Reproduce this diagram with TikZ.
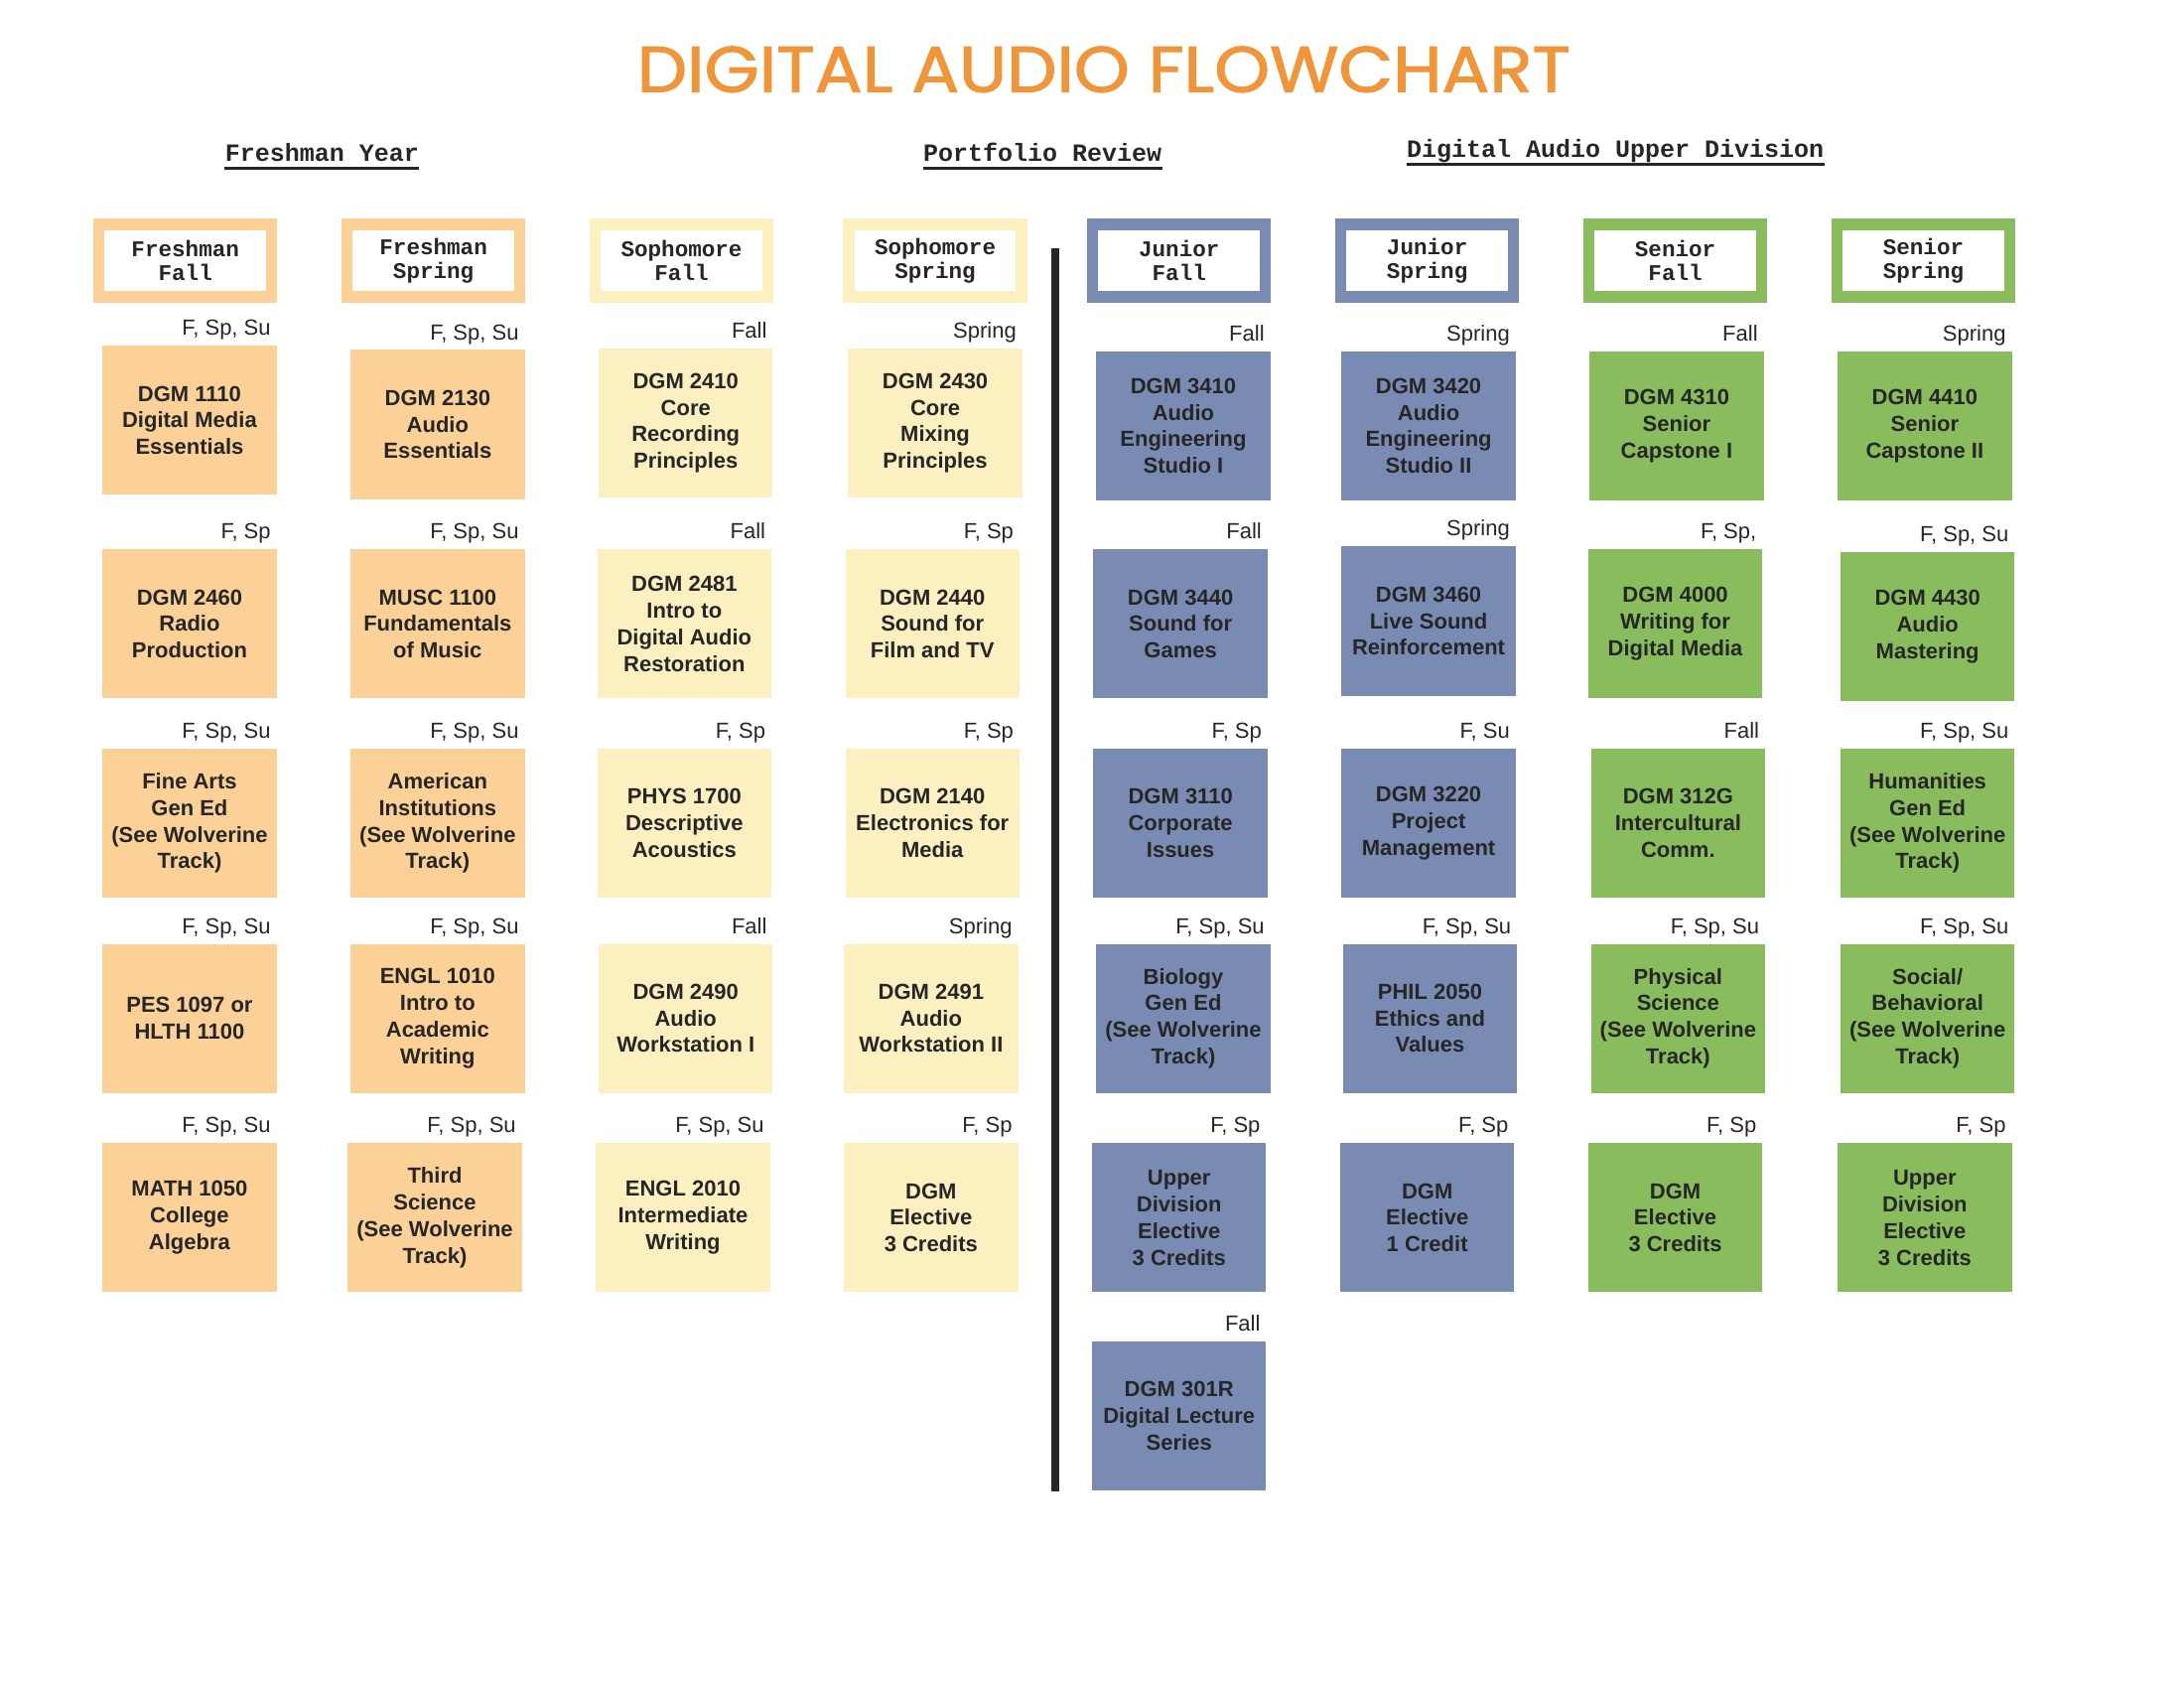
\documentclass[tikz,border=0pt]{standalone}
\usepackage{fontspec}
\setmainfont{Liberation Sans}
\newfontfamily\monof{Liberation Mono}
\newfontfamily\titlef{Poppins}[FakeBold=1.6]
\definecolor{fresh}{HTML}{FCD197}
\definecolor{soph}{HTML}{FCF0C0}
\definecolor{jun}{HTML}{7A8BB3}
\definecolor{sen}{HTML}{89BC5D}
\definecolor{ink}{HTML}{262626}
\definecolor{titleor}{HTML}{F0953A}
\tikzset{
  crsbox/.style={inner sep=0pt, minimum width=87.7pt, minimum height=75.1pt, align=center,
    text=ink, font=\fontsize{11}{13.4}\selectfont\bfseries},
  termlbl/.style={anchor=base east, inner sep=0pt, text=ink, font=\fontsize{11}{13}\selectfont},
  hdrbox/.style={fill=white, line width=5.6pt, minimum width=87pt, minimum height=36.5pt,
    inner sep=0pt, align=center, text=ink, font=\fontsize{11.3}{11.9}\selectfont\monof\bfseries},
  sechdr/.style={anchor=base, inner sep=0pt, text=ink, font=\fontsize{12.5}{14}\selectfont\monof\bfseries},
}
\newcommand\crs[6]{%
  \node[crsbox, fill=#4] (#1) at (#2,#3+53.5) {#6};
  \node[termlbl] (#1t) at ([xshift=-3pt,yshift=5pt]#1.north east) {#5};
}
\begin{document}
\begin{tikzpicture}[x=0.702pt, y=-0.702pt]
\useasboundingbox (0,0) rectangle (1567,1211);
% title
\node[anchor=base, inner sep=0pt, text=titleor] (title) at (792,66)
  {\resizebox{470pt}{23pt}{\titlef DIGITAL AUDIO FLOWCHART}};
% section headers
\node[sechdr] (s1) at (231,116) {Freshman Year};
\node[sechdr] (s2) at (748,116) {Portfolio Review};
\node[sechdr] (s3) at (1159,113) {Digital Audio Upper Division};
\foreach \s in {s1,s2,s3}{
  \draw[ink, line width=1.5pt] ([yshift=-3.2pt]\s.base west) -- ([yshift=-3.2pt]\s.base east);
}
% divider
\coordinate (d1) at (757,178);
\coordinate (d2) at (757,1070);
\draw[ink, line width=4.3pt] (d1) -- (d2);
% column headers
\node[hdrbox, draw=fresh] (h1) at (133,187) {Freshman\\Fall};
\node[hdrbox, draw=fresh] (h2) at (311,187) {Freshman\\Spring};
\node[hdrbox, draw=soph] (h3) at (489,187) {Sophomore\\Fall};
\node[hdrbox, draw=soph] (h4) at (671,187) {Sophomore\\Spring};
\node[hdrbox, draw=jun] (h5) at (846,187) {Junior\\Fall};
\node[hdrbox, draw=jun] (h6) at (1024,187) {Junior\\Spring};
\node[hdrbox, draw=sen] (h7) at (1202,187) {Senior\\Fall};
\node[hdrbox, draw=sen] (h8) at (1380,187) {Senior\\Spring};
% column 1
\crs{a1}{136}{248}{fresh}{F, Sp, Su}{DGM 1110\\Digital Media\\Essentials}
\crs{a2}{136}{394}{fresh}{F, Sp}{DGM 2460\\Radio\\Production}
\crs{a3}{136}{537}{fresh}{F, Sp, Su}{Fine Arts\\Gen Ed\\(See Wolverine\\Track)}
\crs{a4}{136}{677}{fresh}{F, Sp, Su}{PES 1097 or\\HLTH 1100}
\crs{a5}{136}{820}{fresh}{F, Sp, Su}{MATH 1050\\College\\Algebra}
% column 2
\crs{b1}{314}{251}{fresh}{F, Sp, Su}{DGM 2130\\Audio\\Essentials}
\crs{b2}{314}{394}{fresh}{F, Sp, Su}{MUSC 1100\\Fundamentals\\of Music}
\crs{b3}{314}{537}{fresh}{F, Sp, Su}{American\\Institutions\\(See Wolverine\\Track)}
\crs{b4}{314}{677}{fresh}{F, Sp, Su}{ENGL 1010\\Intro to\\Academic\\Writing}
\crs{b5}{312}{820}{fresh}{F, Sp, Su}{Third\\Science\\(See Wolverine\\Track)}
% column 3
\crs{c1}{492}{250}{soph}{Fall}{DGM 2410\\Core\\Recording\\Principles}
\crs{c2}{491}{394}{soph}{Fall}{DGM 2481\\Intro to\\Digital Audio\\Restoration}
\crs{c3}{491}{537}{soph}{F, Sp}{PHYS 1700\\Descriptive\\Acoustics}
\crs{c4}{492}{677}{soph}{Fall}{DGM 2490\\Audio\\Workstation I}
\crs{c5}{490}{820}{soph}{F, Sp, Su}{ENGL 2010\\Intermediate\\Writing}
% column 4
\crs{d1}{671}{250}{soph}{Spring}{DGM 2430\\Core\\Mixing\\Principles}
\crs{d2}{669}{394}{soph}{F, Sp}{DGM 2440\\Sound for\\Film and TV}
\crs{d3}{669}{537}{soph}{F, Sp}{DGM 2140\\Electronics for\\Media}
\crs{d4}{668}{677}{soph}{Spring}{DGM 2491\\Audio\\Workstation II}
\crs{d5}{668}{820}{soph}{F, Sp}{DGM\\Elective\\3 Credits}
% column 5
\crs{e1}{849}{252}{jun}{Fall}{DGM 3410\\Audio\\Engineering\\Studio I}
\crs{e2}{847}{394}{jun}{Fall}{DGM 3440\\Sound for\\Games}
\crs{e3}{847}{537}{jun}{F, Sp}{DGM 3110\\Corporate\\Issues}
\crs{e4}{849}{677}{jun}{F, Sp, Su}{Biology\\Gen Ed\\(See Wolverine\\Track)}
\crs{e5}{846}{820}{jun}{F, Sp}{Upper\\Division\\Elective\\3 Credits}
\crs{e6}{846}{962}{jun}{Fall}{DGM 301R\\Digital Lecture\\Series}
% column 6
\crs{f1}{1025}{252}{jun}{Spring}{DGM 3420\\Audio\\Engineering\\Studio II}
\crs{f2}{1025}{392}{jun}{Spring}{DGM 3460\\Live Sound\\Reinforcement}
\crs{f3}{1025}{537}{jun}{F, Su}{DGM 3220\\Project\\Management}
\crs{f4}{1026}{677}{jun}{F, Sp, Su}{PHIL 2050\\Ethics and\\Values}
\crs{f5}{1024}{820}{jun}{F, Sp}{DGM\\Elective\\1 Credit}
% column 7
\crs{g1}{1203}{252}{sen}{Fall}{DGM 4310\\Senior\\Capstone I}
\crs{g2}{1202}{394}{sen}{F, Sp,}{DGM 4000\\Writing for\\Digital Media}
\crs{g3}{1204}{537}{sen}{Fall}{DGM 312G\\Intercultural\\Comm.}
\crs{g4}{1204}{677}{sen}{F, Sp, Su}{Physical\\Science\\(See Wolverine\\Track)}
\crs{g5}{1202}{820}{sen}{F, Sp}{DGM\\Elective\\3 Credits}
% column 8
\crs{h1c}{1381}{252}{sen}{Spring}{DGM 4410\\Senior\\Capstone II}
\crs{h2c}{1383}{396}{sen}{F, Sp, Su}{DGM 4430\\Audio\\Mastering}
\crs{h3c}{1383}{537}{sen}{F, Sp, Su}{Humanities\\Gen Ed\\(See Wolverine\\Track)}
\crs{h4c}{1383}{677}{sen}{F, Sp, Su}{Social/\\Behavioral\\(See Wolverine\\Track)}
\crs{h5c}{1381}{820}{sen}{F, Sp}{Upper\\Division\\Elective\\3 Credits}
\end{tikzpicture}
\end{document}
